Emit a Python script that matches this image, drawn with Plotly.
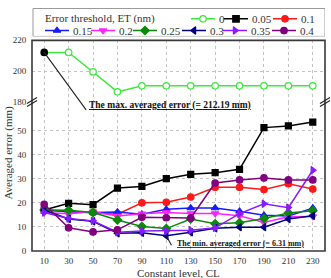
import plotly.graph_objects as go

# ---------------- data ----------------
CL = [10, 30, 50, 70, 90, 110, 130, 150, 170, 190, 210, 230]
ET_LABELS = ["0", "0.05", "0.1", "0.15", "0.2", "0.25", "0.3", "0.35", "0.4"]

err_0 = [212.19, 212.19, 199.5, 186.6, 190.5, 190.5, 190.5, 190.5, 190.5, 190.5, 190.5, 190.5]
err_005 = [17.0, 19.8, 19.2, 26.1, 26.8, 30.0, 31.8, 32.5, 33.9, 51.2, 51.9, 53.5]
err_01 = [17.0, 16.5, 16.0, 15.3, 20.0, 20.2, 22.4, 26.4, 26.4, 25.5, 27.9, 25.7]
err_015 = [17.0, 16.3, 16.0, 16.2, 15.3, 17.3, 17.8, 17.8, 16.5, 14.8, 14.5, 17.8]
err_02 = [16.0, 15.5, 16.3, 14.5, 15.5, 16.0, 15.6, 15.6, 14.6, 11.8, 14.2, 14.3]
err_025 = [17.0, 16.9, 16.0, 12.9, 10.2, 9.3, 13.3, 11.3, 11.7, 13.5, 15.8, 16.7]
err_03 = [17.0, 13.3, 12.3, 7.4, 7.6, 6.31, 7.8, 9.4, 9.9, 9.9, 13.3, 14.6]
err_035 = [16.0, 13.5, 12.5, 7.8, 8.3, 8.3, 8.6, 9.6, 15.5, 19.6, 18.0, 33.5]
err_04 = [19.4, 9.6, 7.9, 8.8, 14.0, 13.8, 13.7, 28.2, 29.5, 30.3, 29.5, 29.5]

SERIES = [err_0, err_005, err_01, err_015, err_02, err_025, err_03, err_035, err_04]

X_TICKS = CL
Y_TICKS_LOW = [0, 10, 20, 30, 40, 50]
Y_TICKS_UP = [180, 200, 220]

# ---------------- styles ----------------
COLORS = ["#3ee83e", "#000000", "#ff1a1a", "#1a1aff", "#ff22ff",
          "#0a8a0a", "#000080", "#8a1aff", "#800080"]
SYMBOLS = ["circle", "square", "circle", "triangle-up", "triangle-down",
           "diamond", "triangle-left", "triangle-right", "circle"]
FONT = "Liberation Serif, Times New Roman, serif"

W, H = 331, 278
ML, MR, MT, MB = 32, 6, 3, 27
PW, PH = W - ML - MR, H - MT - MB


def px_x(p):
    return (p - ML) / PW


def px_y(q):
    return (H - MB - q) / PH


Y_BREAK = px_y(99)
Y_TOP = px_y(36)

fig = go.Figure()

# main series
for i, (lab, ys) in enumerate(zip(ET_LABELS, SERIES)):
    upper = i == 0
    if upper:
        mcol = ["#000000"] + ["#ffffff"] * (len(ys) - 1)
        lcol = ["#000000"] + [COLORS[i]] * (len(ys) - 1)
    else:
        mcol = COLORS[i]
        lcol = COLORS[i]
    fig.add_trace(go.Scatter(
        x=CL, y=ys, name=lab, mode="lines+markers",
        line=dict(color=COLORS[i], width=1.5),
        marker=dict(symbol=SYMBOLS[i], size=6.5 if SYMBOLS[i] != "square" else 6,
                    color=mcol, line=dict(color=lcol, width=1.2)),
        xaxis="x2" if upper else "x", yaxis="y2" if upper else "y",
        showlegend=False,
    ))

# ---------------- custom legend (drawn on a hidden helper axis) ----------------
LEG_ROW = {1: 14, 2: 26}
LEG_POS = [(191, 1), (224, 1), (273, 1), (45, 2), (91, 2), (133, 2), (182, 2), (223, 2), (272, 2)]
SEG = 24
for i, (lab, (x0, row)) in enumerate(zip(ET_LABELS, LEG_POS)):
    yrow = LEG_ROW[row]
    fig.add_trace(go.Scatter(x=[x0, x0 + SEG], y=[yrow, yrow], mode="lines",
                             line=dict(color=COLORS[i], width=1.5),
                             xaxis="x3", yaxis="y3", showlegend=False, hoverinfo="skip"))
    fig.add_trace(go.Scatter(x=[x0 + SEG / 2], y=[yrow], mode="markers",
                             marker=dict(symbol=SYMBOLS[i], size=6.5,
                                         color="#ffffff" if i == 0 else COLORS[i],
                                         line=dict(color=COLORS[i], width=1.2)),
                             xaxis="x3", yaxis="y3", showlegend=False, hoverinfo="skip"))
    fig.add_annotation(x=x0 + SEG + 2, y=yrow, xref="x3", yref="y3", text=lab,
                       showarrow=False, xanchor="left", yanchor="middle",
                       font=dict(family=FONT, size=11, color="#333333"))

fig.add_annotation(x=43, y=LEG_ROW[1], xref="x3", yref="y3", text="Error threshold, ET (nm)",
                   showarrow=False, xanchor="left", yanchor="middle",
                   font=dict(family=FONT, size=11, color="#333333"))
fig.add_shape(type="rect", xref="x3", yref="y3", x0=ML + 1, x1=W - MR, y0=MT + 0.5, y1=32,
              line=dict(color="#9a9a9a", width=1), fillcolor="rgba(0,0,0,0)")

# ---------------- axes ----------------
grid = dict(showgrid=True, gridcolor="#c4c4c4", griddash="dot", gridwidth=1)
tickfont = dict(family=FONT, size=9, color="#333333")

fig.update_layout(
    width=W, height=H,
    margin=dict(l=ML, r=MR, t=MT, b=MB, pad=0),
    paper_bgcolor="white", plot_bgcolor="white",
    showlegend=False,
    xaxis=dict(domain=[0, 1], range=[0, 240], tickvals=X_TICKS, anchor="y",
               tickfont=tickfont, zeroline=False, showline=False, ticks="outside",
               ticklen=1, tickcolor="rgba(0,0,0,0)", **grid),
    xaxis2=dict(domain=[0, 1], range=[0, 240], tickvals=X_TICKS, anchor="y2", matches="x",
                showticklabels=False, zeroline=False, showline=False, ticks="", **grid),
    yaxis=dict(domain=[0, Y_BREAK], range=[0, 61.8], tickvals=Y_TICKS_LOW, anchor="x",
               tickfont=tickfont, zeroline=False, showline=False, ticks="outside",
               ticklen=3, tickcolor="rgba(0,0,0,0)", **grid),
    yaxis2=dict(domain=[Y_BREAK, Y_TOP], range=[180, 220], tickvals=Y_TICKS_UP, anchor="x2",
                tickfont=tickfont, zeroline=False, showline=False, ticks="outside",
                ticklen=3, tickcolor="rgba(0,0,0,0)", **grid),
    xaxis3=dict(domain=[0, 1], range=[ML, W - MR], visible=False, fixedrange=True),
    yaxis3=dict(domain=[px_y(32), 1], range=[32, MT], visible=False, fixedrange=True),
)

# frame around both panels
fig.add_shape(type="rect", xref="paper", yref="paper", x0=0, x1=1, y0=0, y1=Y_TOP,
              line=dict(color="#3a3a3a", width=1.6), fillcolor="rgba(0,0,0,0)", layer="above")

# axis break marks
for xa in (0, 1):
    for dy in (-1.5, 1.5):
        fig.add_shape(type="line", xref="paper", yref="paper",
                      xsizemode="pixel", xanchor=xa, x0=-5, x1=5,
                      ysizemode="pixel", yanchor=Y_BREAK, y0=dy - 3, y1=dy + 3,
                      line=dict(color="#222222", width=1.1), layer="above")

# axis titles
fig.add_annotation(x=0.5, y=px_y(273), xref="paper", yref="paper", text="Constant level, CL",
                   showarrow=False, xanchor="center", yanchor="middle",
                   font=dict(family=FONT, size=11, color="#333333"))
fig.add_annotation(x=px_x(8.5), y=px_y(151), xref="paper", yref="paper", text="Averaged error (mm)",
                   textangle=-90, showarrow=False, xanchor="center", yanchor="middle",
                   font=dict(family=FONT, size=11, color="#333333"))

# max / min callouts
max_val = max(err_0)
min_val = min(err_03)
min_x = CL[err_03.index(min_val)]
fig.add_annotation(x=CL[0], y=max_val, xref="x2", yref="y2", text="", showarrow=True,
                   arrowhead=0, arrowwidth=1.1, arrowcolor="#222222", ax=43, ay=59, standoff=0)
fig.add_annotation(x=px_x(170), y=px_y(102), xref="paper", yref="paper",
                   text=f"<b><u>The max. averaged error (= {max_val:.2f} mm)</u></b>",
                   showarrow=False, xanchor="center", yanchor="middle",
                   font=dict(family=FONT, size=9.5, color="#111111"))
fig.add_annotation(x=min_x, y=min_val, xref="x", yref="y", text="", showarrow=True,
                   arrowhead=0, arrowwidth=1.1, arrowcolor="#222222", ax=6, ay=11, standoff=0)
fig.add_annotation(x=px_x(240), y=px_y(243), xref="paper", yref="paper",
                   text=f"<b><u>The min. averaged error (= {min_val:.2f} mm)</u></b>",
                   showarrow=False, xanchor="center", yanchor="middle",
                   font=dict(family=FONT, size=8, color="#111111"))

fig.write_html("out.html")
